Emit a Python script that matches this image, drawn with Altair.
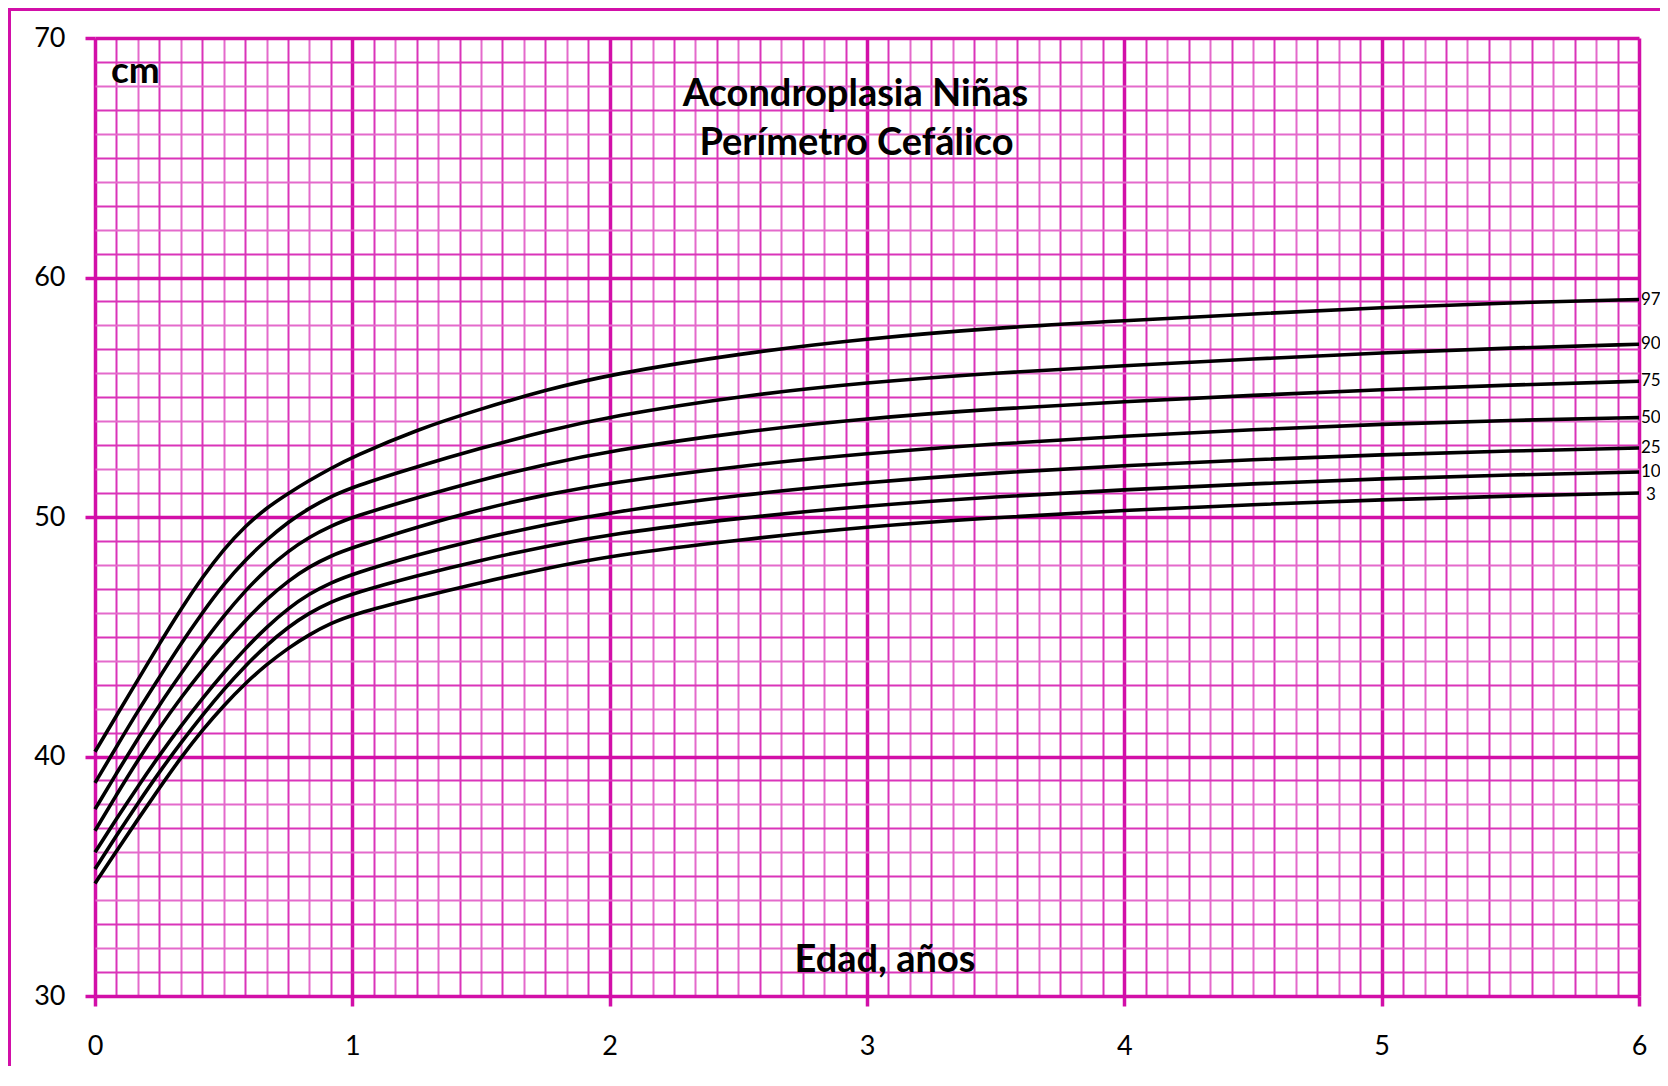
import altair as alt
import pandas as pd

# ---- data ----
AGE_MONTHS = [0, 1, 2, 3, 4, 5, 6, 7, 8, 9, 10, 11, 12, 15, 18, 21, 24, 30, 36, 42, 48, 54, 60, 66, 72]

P97 = [40.2, 41.7, 43.2, 44.7, 46.15, 47.48, 48.65, 49.62, 50.38, 50.98, 51.53, 52.03, 52.5,
       53.65, 54.52, 55.3, 55.95, 56.82, 57.45, 57.9, 58.2, 58.48, 58.75, 58.95, 59.08]
P90 = [38.9, 40.4, 41.9, 43.3, 44.7, 46.0, 47.2, 48.2, 49.05, 49.78, 50.38, 50.85, 51.25,
       52.1, 52.88, 53.58, 54.2, 55.05, 55.62, 56.02, 56.32, 56.6, 56.86, 57.06, 57.21]
P75 = [37.8, 39.3, 40.75, 42.15, 43.45, 44.7, 45.87, 46.92, 47.82, 48.57, 49.17, 49.62, 50.0,
       50.8, 51.55, 52.2, 52.76, 53.55, 54.12, 54.52, 54.82, 55.08, 55.32, 55.51, 55.67]
P50 = [36.9, 38.4, 39.85, 41.2, 42.45, 43.6, 44.68, 45.68, 46.57, 47.33, 47.93, 48.38, 48.72,
       49.58, 50.33, 50.93, 51.43, 52.13, 52.66, 53.06, 53.38, 53.65, 53.88, 54.04, 54.15]
P25 = [36.0, 37.4, 38.75, 40.05, 41.27, 42.42, 43.5, 44.5, 45.4, 46.18, 46.8, 47.25, 47.62,
       48.42, 49.1, 49.68, 50.2, 50.92, 51.45, 51.85, 52.15, 52.4, 52.6, 52.76, 52.88]
P10 = [35.3, 36.7, 38.05, 39.35, 40.57, 41.72, 42.8, 43.78, 44.65, 45.4, 46.0, 46.45, 46.8,
       47.55, 48.2, 48.77, 49.28, 49.96, 50.47, 50.85, 51.14, 51.39, 51.6, 51.76, 51.88]
P3 = [34.7, 36.05, 37.38, 38.68, 39.95, 41.1, 42.13, 43.05, 43.84, 44.52, 45.1, 45.56, 45.93,
      46.62, 47.27, 47.85, 48.38, 49.05, 49.6, 49.98, 50.28, 50.52, 50.72, 50.88, 51.0]

SERIES = {"97": P97, "90": P90, "75": P75, "50": P50, "25": P25, "10": P10, "3": P3}

X_MONTH_TICKS = list(range(0, 73))     # grid: every month
Y_CM_TICKS = list(range(30, 71))       # grid: every cm

TITLE_1 = "Acondroplasia Niñas"
TITLE_2 = "Perímetro Cefálico"
Y_UNIT = "cm"
X_TITLE = "Edad, años"

# ---- build tables ----
rows = []
for name, vals in SERIES.items():
    for m, v in zip(AGE_MONTHS, vals):
        rows.append({"pct": name, "age": m / 12, "cm": v})
df = pd.DataFrame(rows)

end_rows = [{"pct": k, "age": AGE_MONTHS[-1] / 12, "cm": v[-1]} for k, v in SERIES.items()]
df_end = pd.DataFrame(end_rows)

MAJOR = "#d20fa8"
MINOR_A = "#da34b9"
MINOR_B = "#e46acb"
FONT = "Lato"

x_scale = alt.Scale(domain=[0, 6], nice=False, zero=False)
y_scale = alt.Scale(domain=[30, 70], nice=False, zero=False)

x_test = "abs(datum.value - round(datum.value)) < 0.001"
x_odd = "round(datum.value * 12) % 2 === 1"
y_test = "datum.value % 10 === 0"
y_odd = "datum.value % 2 === 1"

x_axis = alt.Axis(
    values=[m / 12 for m in X_MONTH_TICKS],
    tickCount=500,
    grid=True,
    gridColor={"condition": [{"test": x_test, "value": MAJOR}, {"test": x_odd, "value": MINOR_A}],
               "value": MINOR_B},
    gridWidth={"condition": {"test": x_test, "value": 3.5}, "value": 2},
    gridOpacity=1,
    ticks=True,
    tickSize=10,
    tickColor={"condition": {"test": x_test, "value": MAJOR}, "value": "transparent"},
    tickWidth=3.5,
    domain=False,
    labelExpr="abs(datum.value - round(datum.value)) < 0.001 ? format(datum.value, 'd') : ''",
    labelFont=FONT,
    labelFontSize=27,
    labelColor="black",
    labelPadding=27,
    labelOverlap=False,
    labelFlush=False,
    title=None,
)
y_axis = alt.Axis(
    values=Y_CM_TICKS,
    tickCount=500,
    grid=True,
    gridColor={"condition": [{"test": y_test, "value": MAJOR}, {"test": y_odd, "value": MINOR_A}],
               "value": MINOR_B},
    gridWidth={"condition": {"test": y_test, "value": 3.5}, "value": 2},
    gridOpacity=1,
    ticks=True,
    tickSize=10,
    tickColor={"condition": {"test": y_test, "value": MAJOR}, "value": "transparent"},
    tickWidth=3.5,
    domain=False,
    labelExpr="datum.value % 10 === 0 ? format(datum.value, 'd') : ''",
    labelFont=FONT,
    labelFontSize=27,
    labelColor="black",
    labelPadding=20,
    labelOverlap=False,
    labelFlush=False,
    title=None,
)

lines = alt.Chart(df).mark_line(color="black", strokeWidth=3.6, interpolate="basis").encode(
    x=alt.X("age:Q", scale=x_scale, axis=x_axis),
    y=alt.Y("cm:Q", scale=y_scale, axis=y_axis),
    detail="pct:N",
)

end_labels = alt.Chart(df_end).transform_filter("datum.pct !== '3'").mark_text(
    align="left", baseline="middle", dx=2, font=FONT, fontSize=17, color="black"
).encode(
    x=alt.X("age:Q", scale=x_scale),
    y=alt.Y("cm:Q", scale=y_scale),
    text="pct:N",
)
end_label_3 = alt.Chart(df_end).transform_filter("datum.pct === '3'").mark_text(
    align="left", baseline="middle", dx=7, dy=2, font=FONT, fontSize=17, color="black"
).encode(
    x=alt.X("age:Q", scale=x_scale),
    y=alt.Y("cm:Q", scale=y_scale),
    text="pct:N",
)

ann = pd.DataFrame([{"t": Y_UNIT, "age": 0.062, "cm": 68.12}])
unit_text = alt.Chart(ann).mark_text(
    align="left", baseline="alphabetic", font=FONT, fontSize=37, fontWeight="bold", color="black"
).encode(x=alt.X("age:Q", scale=x_scale), y=alt.Y("cm:Q", scale=y_scale), text="t:N")

titles = pd.DataFrame([
    {"t": TITLE_1, "age": 2.955, "cm": 67.15},
    {"t": TITLE_2, "age": 2.959, "cm": 65.12},
    {"t": X_TITLE, "age": 3.07, "cm": 31.0},
])
title_text = alt.Chart(titles).mark_text(
    align="center", baseline="alphabetic", font=FONT, fontSize=38, fontWeight="bold", color="black"
).encode(x=alt.X("age:Q", scale=x_scale), y=alt.Y("cm:Q", scale=y_scale), text="t:N")

frame = alt.Chart(pd.DataFrame({"a": [0]})).mark_rect(
    filled=False, stroke=MAJOR, strokeWidth=3
).encode(
    x=alt.value(-85.5), x2=alt.value(1800), y=alt.value(-28.5), y2=alt.value(1400)
)

chart = alt.layer(frame, lines, end_labels, end_label_3, unit_text, title_text).properties(
    width=1544,
    height=958,
    autosize=alt.AutoSizeParams(type="none"),
    padding={"left": 87, "top": 30, "right": 21, "bottom": 70},
    background="white",
).configure_view(stroke=None)

chart.save("out.html", embed_options={"renderer": "svg", "actions": False})
